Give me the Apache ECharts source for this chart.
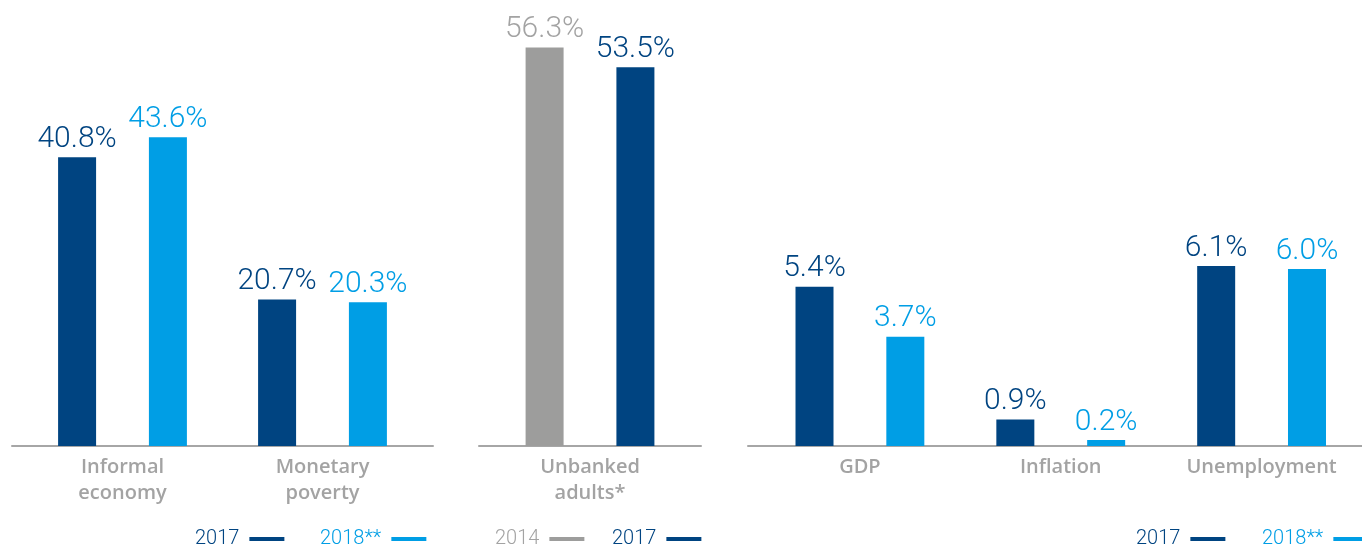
<!DOCTYPE html>
<html>
<head>
<meta charset="utf-8">
<script src="https://cdn.jsdelivr.net/npm/echarts@6/dist/echarts.min.js"></script>
<style>
  html, body { margin: 0; padding: 0; background: #ffffff; }
  #chart { width: 1362px; height: 545px; }
</style>
</head>
<body>
<div id="chart"></div>
<script>
// Social indicators (left), financial inclusion (middle), macro indicators (right)
const socialCategories = ['Informal\neconomy', 'Monetary\npoverty'];
const social2017 = [40.8, 20.7];
const social2018 = [43.6, 20.3];

const inclusionCategories = ['Unbanked\nadults*'];
const inclusion2014 = [56.3];
const inclusion2017 = [53.5];

const macroCategories = ['GDP', 'Inflation', 'Unemployment'];
const macro2017 = [5.4, 0.9, 6.1];
const macro2018 = [3.7, 0.2, 6.0];

const DARK = '#004481';
const LIGHT = '#009ee5';
const GREY = '#9d9d9c';
const AXIS_GREY = '#a6a6a6';
const LABEL_GREY = '#a3a3a3';
const FONT = 'Roboto, "Noto Sans", sans-serif';
const CAT_FONT = '"Open Sans", Roboto, sans-serif';

const BASE = 446;            // pixel row of the baseline
const PCT_SCALE = 7.08;      // px per percentage point (left and middle panels)
const MACRO_SCALE = 29.5;    // px per percentage point (right panel)

const chart = echarts.init(document.getElementById('chart'), null, { renderer: 'canvas' });

function valueLabel(color) {
  return {
    show: true,
    position: 'top',
    distance: 3,
    color: color,
    fontFamily: FONT,
    fontWeight: 300,
    fontSize: 30,
    formatter: p => p.value.toFixed(1) + '%'
  };
}

function barSeries(name, data, color, labelColor, axisIndex) {
  return {
    type: 'bar',
    name: name,
    data: data,
    xAxisIndex: axisIndex,
    yAxisIndex: axisIndex,
    barWidth: 38,
    barGap: '139%',
    itemStyle: { color: color },
    label: valueLabel(labelColor),
    emphasis: { disabled: true },
    silent: true
  };
}

function catAxis(gridIndex, data) {
  return {
    type: 'category',
    gridIndex: gridIndex,
    data: data,
    axisLine: { show: false },
    axisTick: { show: false },
    axisLabel: {
      color: LABEL_GREY,
      fontFamily: CAT_FONT,
      fontWeight: 600,
      fontSize: 20,
      lineHeight: 26,
      margin: 8
    }
  };
}

function valAxis(gridIndex, max) {
  return {
    type: 'value',
    gridIndex: gridIndex,
    min: 0,
    max: max,
    show: false,
    splitLine: { show: false }
  };
}

// Baseline rules, slightly wider than the bar panels
function ruleAxis(gridIndex) {
  return {
    type: 'value',
    gridIndex: gridIndex,
    min: 0,
    max: 1,
    axisLine: { show: true, onZero: false, lineStyle: { color: AXIS_GREY, width: 2 } },
    axisTick: { show: false },
    axisLabel: { show: false },
    splitLine: { show: false }
  };
}

// One legend entry: year text followed by a short colour rule
function legendItem(left, name, color, textColor) {
  return {
    left: left,
    top: 529,
    padding: 0,
    orient: 'horizontal',
    align: 'right',
    icon: 'rect',
    itemWidth: 35,
    itemHeight: 4,
    selectedMode: false,
    data: [{ name: name, itemStyle: { color: color }, textStyle: { color: textColor } }],
    textStyle: {
      fontFamily: FONT,
      fontWeight: 300,
      fontSize: 20,
      lineHeight: 20,
      padding: [0, 5, 0, 0]
    }
  };
}

const pctHeight = 60 * PCT_SCALE;
const macroHeight = 15 * MACRO_SCALE;

const option = {
  backgroundColor: '#ffffff',
  animation: false,
  grid: [
    { left: 22.5, width: 400, top: BASE - pctHeight, height: pctHeight },
    { left: 490, width: 200, top: BASE - pctHeight, height: pctHeight },
    { left: 759.5, width: 606, top: BASE - macroHeight, height: macroHeight },
    { left: 12, width: 421, top: BASE - pctHeight, height: pctHeight },
    { left: 479, width: 222, top: BASE - pctHeight, height: pctHeight },
    { left: 748, width: 620, top: BASE - pctHeight, height: pctHeight }
  ],
  xAxis: [
    catAxis(0, socialCategories),
    catAxis(1, inclusionCategories),
    catAxis(2, macroCategories),
    ruleAxis(3),
    ruleAxis(4),
    ruleAxis(5)
  ],
  yAxis: [
    valAxis(0, 60),
    valAxis(1, 60),
    valAxis(2, 15),
    valAxis(3, 1),
    valAxis(4, 1),
    valAxis(5, 1)
  ],
  legend: [
    legendItem(195, '2017', DARK, DARK),
    legendItem(320, '2018**', LIGHT, LIGHT),
    legendItem(495, '2014', GREY, LABEL_GREY),
    legendItem(612, '2017', DARK, DARK),
    legendItem(1136, '2017', DARK, DARK),
    legendItem(1262, '2018**', LIGHT, LIGHT)
  ],
  series: [
    barSeries('2017', social2017, DARK, DARK, 0),
    barSeries('2018**', social2018, LIGHT, LIGHT, 0),
    barSeries('2014', inclusion2014, GREY, LABEL_GREY, 1),
    barSeries('2017', inclusion2017, DARK, DARK, 1),
    barSeries('2017', macro2017, DARK, DARK, 2),
    barSeries('2018**', macro2018, LIGHT, LIGHT, 2)
  ]
};

chart.setOption(option);
</script>
</body>
</html>
